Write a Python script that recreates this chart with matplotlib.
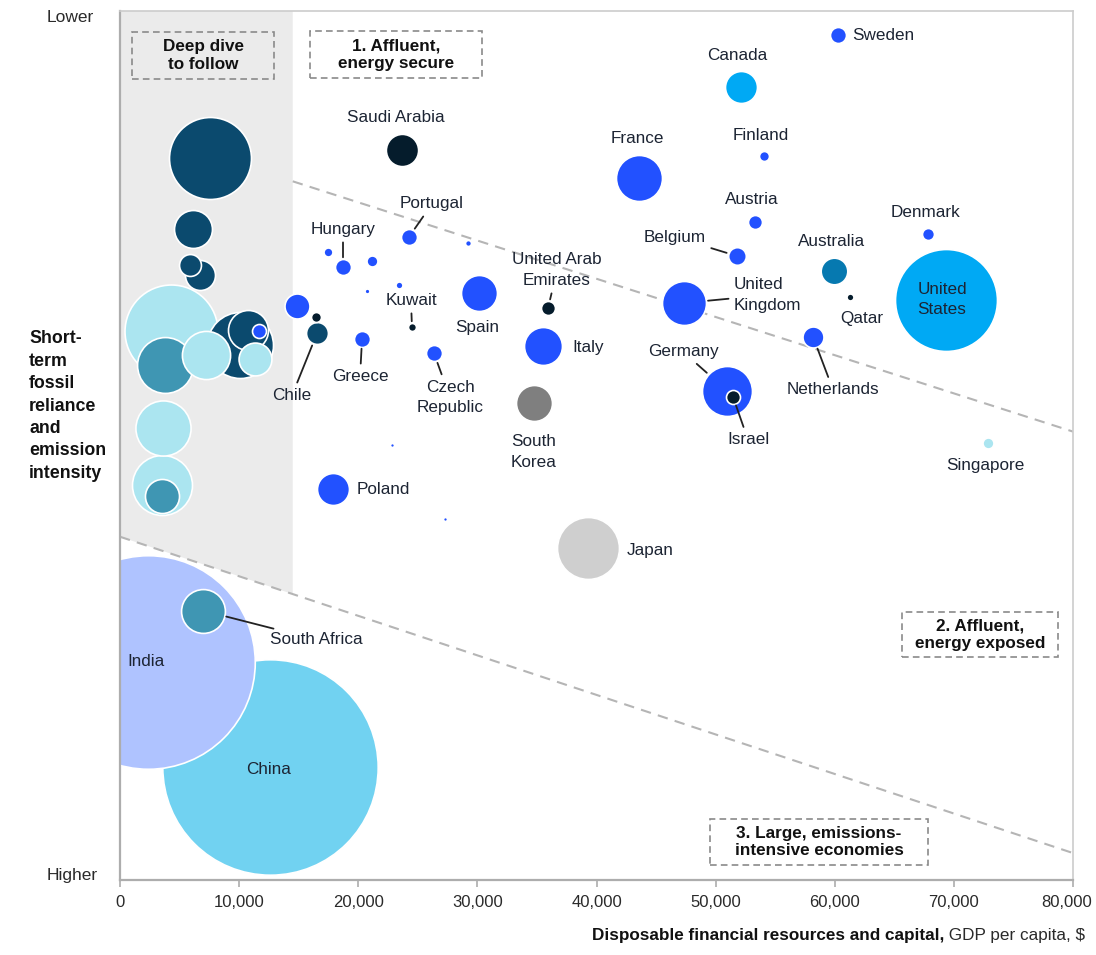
import matplotlib
matplotlib.use("Agg")
import matplotlib.pyplot as plt
from matplotlib.patches import Rectangle
from matplotlib.transforms import ScaledTranslation
import numpy as np

plt.rcParams['font.family'] = ['Liberation Sans', 'DejaVu Sans']

# country, GDP per capita ($), fossil-reliance score (0 = higher, 100 = lower), bubble weight, group
names = ['', '', '', '', '', '', '', '', '', '', '', '', '', '',
         'India', 'China', 'South Africa', 'Saudi Arabia', 'Portugal', 'Hungary',
         '', '', '', '', '', 'Spain', '', '', 'Chile', 'Greece', 'Kuwait',
         'Czech Republic', '', '', 'Poland', 'United Arab Emirates', 'Italy',
         'South Korea', 'Japan', 'France', 'Canada', 'Sweden', 'Finland',
         'Austria', 'Belgium', 'United Kingdom', 'Australia', 'Denmark', 'Qatar',
         'United States', 'Netherlands', 'Germany', 'Israel', 'Singapore']
gdp = [7550, 6130, 5880, 6720, 4280, 3780, 7220, 10070, 10750, 11670, 11330, 3610, 3530, 3530,
       2350, 12550, 6970, 23670, 24260, 18720,
       17460, 21150, 29210, 23420, 20740, 30140, 14860, 16450, 16540, 20320, 24510,
       26360, 22830, 27280, 17880, 35930, 35510,
       34750, 39290, 43570, 52130, 60280, 54060,
       53310, 51800, 47350, 59940, 67830, 61280,
       69340, 58180, 50960, 51460, 72870]
score = [83.1, 74.9, 70.8, 69.6, 63.2, 59.3, 60.4, 61.6, 63.3, 63.2, 60.0, 52.0, 45.5, 44.2,
         25.1, 13.0, 31.0, 84.0, 74.0, 70.5,
         72.3, 71.2, 73.3, 68.5, 67.8, 67.5, 66.1, 64.8, 62.9, 62.3, 63.6,
         60.6, 50.1, 41.5, 45.0, 65.8, 61.4,
         54.9, 38.2, 80.8, 91.3, 97.2, 83.3,
         75.7, 71.8, 66.4, 70.1, 74.3, 67.1,
         66.8, 62.5, 56.3, 55.6, 50.3]
weight = [16.8, 3.6, 1.2, 2.25, 21.6, 7.8, 5.8, 10.9, 4.0, 0.49, 2.7, 7.6, 9.0, 2.9,
          114.0, 116.0, 4.8, 2.6, 0.64, 0.64,
          0.2, 0.3, 0.09, 0.12, 0.06, 3.24, 1.56, 0.25, 1.2, 0.64, 0.16,
          0.64, 0.04, 0.04, 2.56, 0.49, 3.6,
          3.24, 9.6, 5.3, 2.56, 0.64, 0.25,
          0.49, 0.78, 4.84, 1.77, 0.36, 0.12,
          26.0, 1.1, 6.25, 0.49, 0.3]
group = [1, 1, 1, 1, 2, 3, 2, 1, 1, 0, 2, 2, 2, 3,
         8, 9, 3, 4, 0, 0,
         0, 0, 0, 0, 0, 0, 0, 4, 1, 0, 4,
         0, 0, 0, 0, 4, 0,
         6, 7, 0, 5, 0, 0,
         0, 0, 0, 10, 0, 4,
         5, 0, 0, 4, 2]

palette = ['#2251ff', '#0b4a6e', '#abe5f0', '#3f96b3', '#051c2c', '#00a9f4',
           '#7f7f7f', '#cfcfcf', '#afc3ff', '#71d2f1', '#0679b0']

xticks = [0, 10000, 20000, 30000, 40000, 50000, 60000, 70000, 80000]

# label placement: offset from bubble centre in pixels, alignment, leader line
labels = {
    'India': (-2, 0, 'center', False),
    'China': (-1, -2, 'center', False),
    'South Africa': (67, -29, 'left', True),
    'Saudi Arabia': (-6, 33, 'center', False),
    'Portugal': (23, 33, 'center', True),
    'Hungary': (0, 38, 'center', True),
    'Spain': (-2, -34, 'center', False),
    'Chile': (-25, -62, 'center', True),
    'Greece': (-2, -38, 'center', True),
    'Kuwait': (-1, 27, 'center', True),
    'Czech Republic': (16, -44, 'center', True),
    'Poland': (24, -1, 'left', False),
    'United Arab Emirates': (9, 38, 'center', True),
    'Italy': (29, -1, 'left', False),
    'South Korea': (0, -49, 'center', False),
    'Japan': (39, -2, 'left', False),
    'France': (-2, 39, 'center', False),
    'Canada': (-4, 31, 'center', False),
    'Sweden': (14, 0, 'left', False),
    'Finland': (-3, 21, 'center', False),
    'Austria': (-3, 23, 'center', False),
    'Belgium': (-62, 19, 'center', True),
    'United Kingdom': (50, 8, 'left', True),
    'Australia': (-3, 29, 'center', False),
    'Denmark': (-3, 22, 'center', False),
    'Qatar': (12, -22, 'center', False),
    'United States': (-4, 0, 'center', False),
    'Netherlands': (20, -53, 'center', True),
    'Germany': (-44, 39, 'center', True),
    'Israel': (15, -43, 'center', True),
    'Singapore': (-3, -23, 'center', False),
}
wrapped = {'United Arab Emirates': 'United Arab\nEmirates', 'Czech Republic': 'Czech\nRepublic',
           'South Korea': 'South\nKorea', 'United Kingdom': 'United\nKingdom',
           'United States': 'United\nStates'}

TXT = '#1c2433'
fig = plt.figure(figsize=(10.96, 9.55), dpi=100)
ax = fig.add_axes([120 / 1096, 75 / 955, 953 / 1096, 869 / 955])
ax.set_xlim(0, 80000)
ax.set_ylim(0, 100)

# segment boundaries
lower = np.array([[0, 39.5], [80000, 3.1]])
upper = np.array([[14500, 80.4], [80000, 51.6]])
y_edge = np.interp(14500, lower[:, 0], lower[:, 1])
ax.fill([0, 14500, 14500, 0], [lower[0, 1], y_edge, 100, 100], color='#ebebeb', lw=0, zorder=0)
ax.plot(lower[:, 0], lower[:, 1], color='#b5b5b5', lw=1.5, ls=(0, (5, 3.5)), zorder=1)
ax.plot(upper[:, 0], upper[:, 1], color='#b5b5b5', lw=1.5, ls=(0, (5, 3.5)), zorder=1)

# bubbles, largest first
order = np.argsort(weight)[::-1]
for z, i in enumerate(order):
    ax.scatter(gdp[i], score[i], s=207.36 * weight[i], color=palette[group[i]],
               edgecolors='white', linewidths=1.2, zorder=2 + z * 0.01)

for i, name in enumerate(names):
    if not name:
        continue
    dx, dy, ha, leader = labels[name]
    r_pt = np.sqrt(weight[i] * 100) * 0.72
    arrow = None
    if leader:
        arrow = dict(arrowstyle='-', color='#222222', lw=1.3, shrinkA=2, shrinkB=r_pt + 1.5)
    ax.annotate(wrapped.get(name, name), xy=(gdp[i], score[i]), xytext=(dx, dy),
                textcoords='offset pixels', ha=ha, va='center', fontsize=12.3,
                color=TXT, linespacing=1.45, arrowprops=arrow, zorder=5)

# quadrant boxes
boxes = [((0.0126, 0.9218), 0.149, 0.054, 'Deep dive\nto follow'),
         ((0.1994, 0.9229), 0.1805, 0.0541, '1. Affluent,\nenergy secure'),
         ((0.8206, 0.2566), 0.1637, 0.0518, '2. Affluent,\nenergy exposed'),
         ((0.6191, 0.0173), 0.2288, 0.0529, '3. Large, emissions-\nintensive economies')]
for (bx, by), bw, bh, txt in boxes:
    ax.add_patch(Rectangle((bx, by), bw, bh, transform=ax.transAxes, fill=False,
                           ec='#8a8a8a', lw=1.2, ls=(0, (4, 2.5)), zorder=6))
    ax.text(bx + bw / 2, by + bh / 2, txt, transform=ax.transAxes, ha='center', va='center',
            fontsize=12.3, fontweight='bold', color='#111111', linespacing=1.2, zorder=6)

# axes styling
for side in ['top', 'right']:
    ax.spines[side].set_color('#cccccc')
    ax.spines[side].set_linewidth(1.2)
for side in ['left', 'bottom']:
    ax.spines[side].set_color('#adadad')
    ax.spines[side].set_linewidth(1.6)
ax.set_yticks([])
ax.set_xticks(xticks)
ax.set_xticklabels([f'{t:,}' for t in xticks])
ax.tick_params(axis='x', length=5, width=1.2, color='#adadad', labelsize=12,
               labelcolor='#2a2a2a', pad=6)
# keep the last tick label inside the figure
last = ax.get_xticklabels()[-1]
last.set_transform(last.get_transform() + ScaledTranslation(-6 / 100, 0, fig.dpi_scale_trans))

fig.text(47 / 1096, 1 - 18 / 955, 'Lower', ha='left', va='center', fontsize=12.5, color='#2a2a2a')
fig.text(47 / 1096, 1 - 875 / 955, 'Higher', ha='left', va='center', fontsize=12.5, color='#2a2a2a')
fig.text(29 / 1096, 1 - 406 / 955,
         'Short-\nterm\nfossil\nreliance\nand\nemission\nintensity',
         ha='left', va='center', fontsize=12.8, fontweight='bold', color='#111111', linespacing=1.42)

xl = fig.text(1085 / 1096, 1 - 943 / 955, ' GDP per capita, $', ha='right', va='bottom',
              fontsize=12.3, color='#2a2a2a')
ax.annotate('Disposable financial resources and capital,', xy=(0, 0), xycoords=xl,
            ha='right', va='bottom', fontsize=12.3, fontweight='bold', color='#111111',
            annotation_clip=False)

fig.savefig('out.png', dpi=100, facecolor='white')
